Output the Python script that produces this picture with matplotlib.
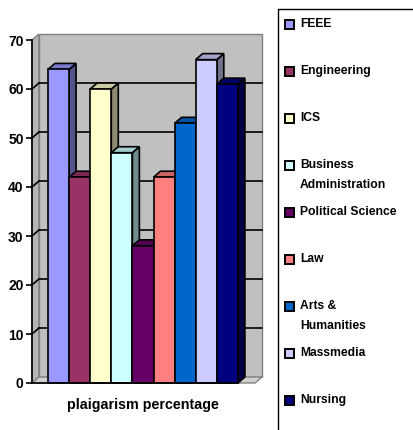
import numpy as np
import matplotlib
matplotlib.use('Agg')
import matplotlib.pyplot as plt
from matplotlib.patches import Polygon, Rectangle
from matplotlib.colors import to_rgb

plt.rcParams['font.family'] = ['Liberation Sans', 'DejaVu Sans']

# data
faculties = ['FEEE', 'Engineering', 'ICS', 'Business\nAdministration', 'Political Science',
             'Law', 'Arts &\nHumanities', 'Massmedia', 'Nursing']
percent = [64, 42, 60, 47, 28, 42, 53, 66, 61]
colors = ['#9999FF', '#993366', '#FFFFCC', '#CCFFFF', '#660066',
          '#FF8080', '#0066CC', '#CCCCFF', '#000080']
yticks = [0, 10, 20, 30, 40, 50, 60, 70]
xlabel = 'plaigarism percentage'


def shade(c, k):
    r, g, b = to_rgb(c)
    return (r * k, g * k, b * k)


fig = plt.figure(figsize=(4.14, 4.30), dpi=100)
ax = fig.add_axes([32 / 414, 47 / 430, 230 / 414, 71.5 * 4.9 / 430])

x0, xr = -0.758, 10.14   # axis position / right edge of back wall
dx, dy = 0.33, 1.22      # depth offset
ymax = yticks[-1]

ax.set_xlim(x0, xr)
ax.set_ylim(0, 71.5)

# walls and floor
wall = '#C0C0C0'
ax.add_patch(Polygon([(x0, 0), (x0, ymax), (x0 + dx, ymax + dy), (x0 + dx, dy)],
                     closed=True, facecolor='#B4B4B4', edgecolor='#808080', lw=1,
                     clip_on=False, zorder=0))
ax.add_patch(Rectangle((x0 + dx, dy), xr - x0 - dx, ymax, facecolor=wall,
                       edgecolor='#808080', lw=1, clip_on=False, zorder=0))
ax.add_patch(Polygon([(x0, 0), (xr - dx, 0), (xr, dy), (x0 + dx, dy)],
                     closed=True, facecolor='#D0D0D0', edgecolor='#808080', lw=1,
                     clip_on=False, zorder=0.2))

# gridlines
for v in yticks[1:-1]:
    ax.plot([x0 + dx, xr], [v + dy, v + dy], color='black', lw=1.2, clip_on=False, zorder=0.5)
    ax.plot([x0, x0 + dx], [v, v + dy], color='black', lw=1.2, clip_on=False, zorder=0.5)

# bars
for i, (v, c) in enumerate(zip(percent, colors)):
    side = [(i + 1, 0), (i + 1, v), (i + 1 + dx, v + dy), (i + 1 + dx, dy)]
    top = [(i, v), (i + 1, v), (i + 1 + dx, v + dy), (i + dx, v + dy)]
    ax.add_patch(Polygon(side, closed=True, facecolor=shade(c, 0.55),
                         edgecolor='black', lw=1.2, clip_on=False, zorder=1))
    ax.add_patch(Polygon(top, closed=True, facecolor=shade(c, 0.8),
                         edgecolor='black', lw=1.2, clip_on=False, zorder=1))
    ax.add_patch(Rectangle((i, 0), 1, v, facecolor=c, edgecolor='black',
                           lw=1.2, clip_on=False, zorder=1))

ax.plot([x0, len(percent)], [0, 0], color='black', lw=1.2, clip_on=False, zorder=2)

# axes styling
for s in ['top', 'right', 'bottom']:
    ax.spines[s].set_visible(False)
ax.spines['left'].set_bounds(0, ymax)
ax.spines['left'].set_linewidth(1.2)
ax.set_yticks(yticks)
ax.set_yticklabels([str(t) for t in yticks], fontsize=10, fontweight='bold')
ax.tick_params(axis='y', direction='out', length=4, width=1.2, pad=2)
ax.set_xticks([])
ax.text((x0 + xr) / 2 - 0.2, -4.5, xlabel, ha='center', va='center',
        fontsize=10.3, fontweight='bold')

# legend drawn in pixel coordinates
lg = fig.add_axes([0, 0, 1, 1])
lg.set_xlim(0, 414)
lg.set_ylim(430, 0)
lg.axis('off')
lg.add_patch(Rectangle((278, 9), 200, 500, facecolor='none', edgecolor='black', lw=1))
for k, (name, c) in enumerate(zip(faculties, colors)):
    y = 24 + 47 * k
    lg.add_patch(Rectangle((285, y - 4.5), 9, 9, facecolor=c, edgecolor='black', lw=1.4))
    for j, line in enumerate(name.split('\n')):
        lg.text(300, y + 20 * j, line, ha='left', va='center',
                fontsize=8.7, fontweight='bold')

fig.savefig('out.png', dpi=100)
